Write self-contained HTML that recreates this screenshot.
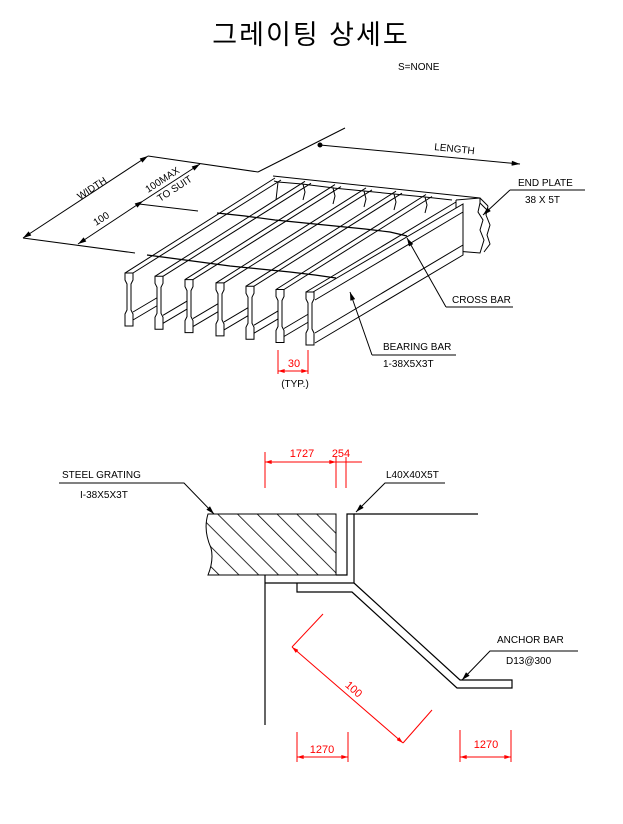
<!DOCTYPE html>
<html><head><meta charset="utf-8"><style>
html,body{margin:0;padding:0;background:#fff}
svg{display:block}
text{font-family:"Liberation Sans","Noto Sans CJK KR",sans-serif;fill:#000}
.r{fill:#f00}
</style></head><body>
<svg width="623" height="824" viewBox="0 0 623 824" xmlns="http://www.w3.org/2000/svg">
<defs>
<marker id="a" viewBox="0 0 10 6" refX="10" refY="3" markerWidth="9" markerHeight="5" orient="auto-start-reverse" markerUnits="userSpaceOnUse"><path d="M0,0L10,3L0,6z" fill="#000"/></marker>
<marker id="ar" viewBox="0 0 10 6" refX="10" refY="3" markerWidth="8" markerHeight="4" orient="auto-start-reverse" markerUnits="userSpaceOnUse"><path d="M0,0L10,3L0,6z" fill="#f00"/></marker>
<pattern id="h" width="14" height="14" patternUnits="userSpaceOnUse" patternTransform="rotate(-45)"><line x1="0" y1="0" x2="0" y2="14" stroke="#000" stroke-width="1.6"/></pattern>
</defs>
<text x="311" y="44" font-size="27" text-anchor="middle" style="letter-spacing:2px">그레이팅 상세도</text>
<text x="398" y="70" font-size="10">S=NONE</text>

<g stroke="#000" stroke-width="1" fill="none">
<line x1="23" y1="238" x2="148" y2="156" marker-start="url(#a)" marker-end="url(#a)"/>
<line x1="148" y1="156" x2="258" y2="172"/>
<line x1="23" y1="238" x2="135" y2="253"/>
<line x1="78" y1="244" x2="143" y2="201" marker-start="url(#a)" marker-end="url(#a)"/>
<line x1="143" y1="201" x2="200" y2="164" marker-end="url(#a)"/>
<line x1="139" y1="204" x2="198" y2="211"/>
<line x1="258" y1="172" x2="345" y2="128"/>
<line x1="320" y1="145" x2="520" y2="164" marker-end="url(#a)"/>
<circle cx="320" cy="145" r="2" fill="#000"/>
<line x1="273" y1="176" x2="480" y2="198"/>
<polyline points="456,200 480,198 480,203 478,212 483,220 480,230 484,240 480,253 456,251 456,200"/>
<line x1="480" y1="198" x2="488" y2="206"/><line x1="480" y1="203" x2="489" y2="212"/>
<path d="M488,206 L486,215 L490,225 L487,235 L490,244 L484,252"/>
<g>
<polyline points="274,181 278,182 276,200"/>
<polyline points="302,184 334,188"/><polyline points="303,184 305,192 303,200"/>
<polyline points="333,188 364,191"/><polyline points="333,188 335,196 333,204"/>
<polyline points="364,191 394,194"/><polyline points="364,191 366,199 364,207"/>
<polyline points="394,194 425,197"/><polyline points="394,194 396,202 394,210"/>
<polyline points="425,197 452,200"/><polyline points="425,197 427,205 425,213"/>
<polyline points="278,182 302,184"/>
</g>
</g>
<g stroke="#000" stroke-width="1" fill="#fff">
<g id="b">
<line x1="125" y1="273" x2="275" y2="178"/>
<line x1="133" y1="273" x2="281" y2="180"/>
<line x1="133" y1="312" x2="160" y2="296"/>
<line x1="133" y1="320" x2="160" y2="304"/>
<path d="M125,273 L133,273 L133,280 L131,284 L131,310 L133,314 L133,326 L125,326 L125,314 L127,310 L127,284 L125,280 Z"/>
</g>
<use href="#b" x="30" y="3.3"/>
<use href="#b" x="60" y="6.6"/>
<use href="#b" x="91" y="9.9"/>
<use href="#b" x="121" y="13.2"/>
<use href="#b" x="151" y="16.5"/>
<line x1="306" y1="292" x2="456" y2="202"/>
<path d="M313,292 L463,204 L463,255 L315,343" />
<line x1="315" y1="333" x2="463" y2="245"/>
<line x1="315" y1="300" x2="463" y2="212"/>
<path d="M306,292 L314,292 L314,299 L312,303 L312,329 L314,333 L314,345 L306,345 L306,333 L308,329 L308,303 L306,299 Z"/>
</g>
<g stroke="#000" stroke-width="1.2" fill="none">
<path d="M147,255 L170,258 L200,262 L230,266 L260,269 L290,272 L315,275 L336,278"/>
<path d="M217,213 L245,216 L275,220 L305,223 L335,226 L365,229 L390,232 L407,236"/>
</g>
<g stroke="#000" stroke-width="1" fill="none">
<polyline points="510,190 585,190"/><line x1="510" y1="190" x2="483" y2="215" marker-end="url(#a)"/>
<polyline points="446,307 513,307"/><line x1="446" y1="307" x2="407" y2="238" marker-end="url(#a)"/>
<polyline points="372,355 456,355"/><line x1="372" y1="355" x2="350" y2="292" marker-end="url(#a)"/>
</g>
<text x="434" y="150" font-size="10" transform="rotate(6 434 150)">LENGTH</text>
<text x="80" y="200" font-size="10" transform="rotate(-33 80 200)">WIDTH</text>
<text x="96" y="226" font-size="10" transform="rotate(-33 96 226)">100</text>
<text x="148" y="193" font-size="10" transform="rotate(-33 148 193)">100MAX</text>
<text x="160" y="202" font-size="10" transform="rotate(-33 160 202)">TO SUIT</text>
<text x="518" y="186" font-size="10">END PLATE</text>
<text x="525" y="203" font-size="10">38 X 5T</text>
<text x="452" y="303" font-size="10">CROSS BAR</text>
<text x="383" y="350" font-size="10">BEARING BAR</text>
<text x="383" y="367" font-size="10">1-38X5X3T</text>
<g stroke="#f00" stroke-width="1" fill="none">
<line x1="278" y1="350" x2="278" y2="374"/><line x1="308" y1="350" x2="308" y2="374"/>
<line x1="278" y1="371" x2="308" y2="371" marker-start="url(#ar)" marker-end="url(#ar)"/>
</g>
<text class="r" x="294" y="367" font-size="11" text-anchor="middle">30</text>
<text x="295" y="387" font-size="10" text-anchor="middle">(TYP.)</text>

<path d="M208,514 L336,514 L336,575 L208,575 Q214,560 211,548 Q203,530 208,514 Z" fill="url(#h)" stroke="#000" stroke-width="1"/>
<g stroke="#000" stroke-width="1.2" fill="none">
<polyline points="336,575 347,575 347,514 354,514 354,583 265,583"/>
<line x1="354" y1="514" x2="478" y2="514"/>
<line x1="265" y1="575" x2="265" y2="725"/>
<polyline points="354,583 460,680 512,680 512,688 457,688 352,592 297,592 297,583"/>
</g>
<g stroke="#000" stroke-width="1" fill="none">
<polyline points="59,483 184,483 214,514" marker-end="url(#a)"/>
<polyline points="445,483 385,483 356,512" marker-end="url(#a)"/>
<polyline points="578,651 490,651 462,680" marker-end="url(#a)"/>
</g>
<text x="62" y="478" font-size="10">STEEL GRATING</text>
<text x="80" y="498" font-size="10">I-38X5X3T</text>
<text x="386" y="478" font-size="10">L40X40X5T</text>
<text x="497" y="643" font-size="10">ANCHOR BAR</text>
<text x="506" y="664" font-size="10">D13@300</text>
<g stroke="#f00" stroke-width="1" fill="none">
<line x1="265" y1="452" x2="265" y2="488"/><line x1="336" y1="457" x2="336" y2="488"/><line x1="346" y1="457" x2="346" y2="488"/>
<line x1="265" y1="462" x2="336" y2="462" marker-start="url(#ar)" marker-end="url(#ar)"/>
<line x1="336" y1="462" x2="362" y2="462"/>
<line x1="292" y1="647" x2="323" y2="614"/><line x1="403" y1="743" x2="432" y2="710"/>
<line x1="292" y1="647" x2="403" y2="743" marker-start="url(#ar)" marker-end="url(#ar)"/>
<line x1="297" y1="732" x2="297" y2="762"/><line x1="348" y1="732" x2="348" y2="762"/>
<line x1="297" y1="757" x2="348" y2="757" marker-start="url(#ar)" marker-end="url(#ar)"/>
<line x1="460" y1="730" x2="460" y2="762"/><line x1="511" y1="730" x2="511" y2="762"/>
<line x1="460" y1="757" x2="511" y2="757" marker-start="url(#ar)" marker-end="url(#ar)"/>
</g>
<text class="r" x="302" y="457" font-size="11" text-anchor="middle">1727</text>
<text class="r" x="341" y="457" font-size="11" text-anchor="middle">254</text>
<text class="r" x="354" y="693" font-size="11" text-anchor="middle" transform="rotate(41 354 689)">100</text>
<text class="r" x="322" y="753" font-size="11" text-anchor="middle">1270</text>
<text class="r" x="486" y="748" font-size="11" text-anchor="middle">1270</text>
</svg>
</body></html>
